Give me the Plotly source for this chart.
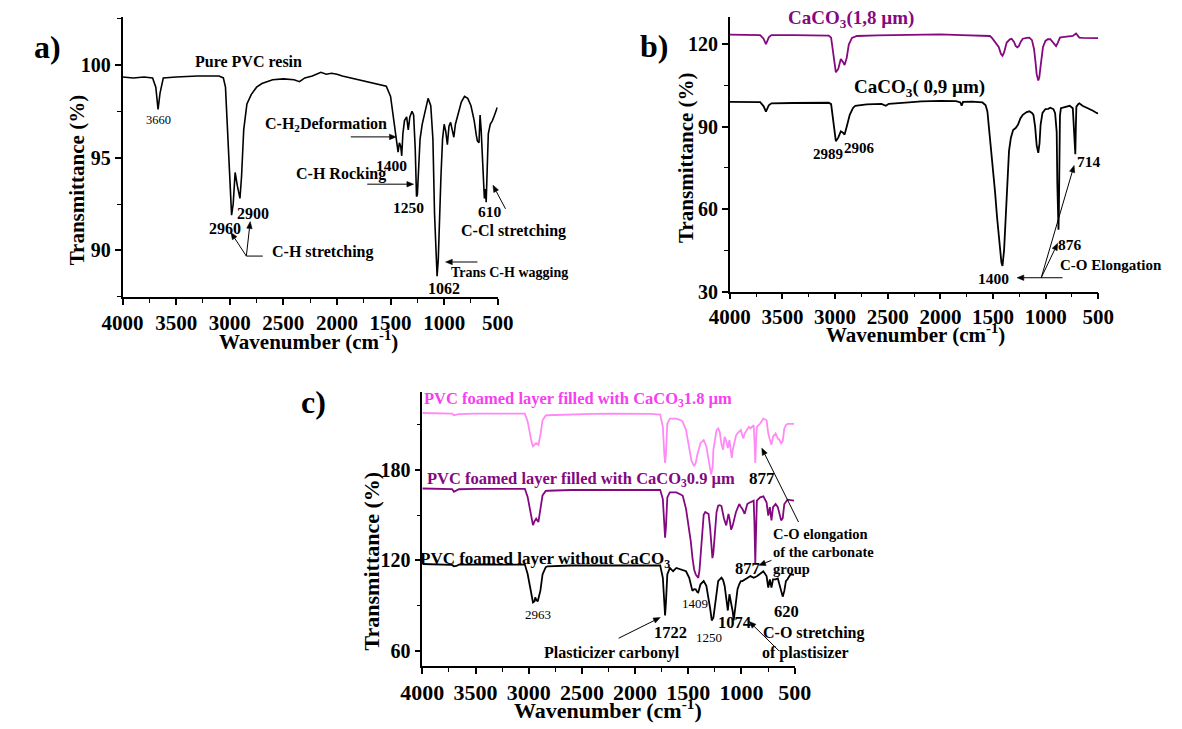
import math
import plotly.graph_objects as go

W, H = 1182, 729
SERIF = "Liberation Serif"

# ---------------- data ----------------
pvc_wn = [4000, 3900, 3800, 3720, 3690, 3669, 3650, 3620, 3500, 3300, 3100, 3060, 3040, 3020, 3000,
          2983, 2968, 2950, 2930, 2905, 2890, 2870, 2840, 2800, 2750, 2700, 2600, 2500, 2400, 2350,
          2300, 2230, 2150, 2100, 2050, 2000, 1950, 1870, 1750, 1630, 1540, 1500, 1470, 1445, 1430,
          1418, 1405, 1396, 1385, 1370, 1350, 1335, 1320, 1300, 1285, 1270, 1258, 1250, 1240, 1225,
          1205, 1180, 1150, 1125, 1105, 1090, 1075, 1066, 1055, 1044, 1030, 1015, 1000, 985, 970,
          955, 940, 925, 910, 895, 870, 840, 810, 780, 750, 720, 700, 690, 675, 665, 655, 640, 625,
          615, 608, 598, 588, 570, 550, 530, 510, 505]
pvc_T = [99.35, 99.3, 99.35, 99.3, 98.8, 97.6, 98.5, 99.3, 99.35, 99.4, 99.4, 99.3, 98.8, 96.5, 93.5,
         91.9, 92.5, 94.2, 93.5, 92.8, 94.0, 96.5, 97.9, 98.4, 98.8, 99.0, 99.2, 99.25, 99.2, 99.1,
         99.3, 99.4, 99.6, 99.5, 99.55, 99.5, 99.4, 99.3, 99.15, 99.0, 98.85, 98.3, 97.0, 95.8, 95.3,
         95.8, 95.6, 95.1, 96.3, 97.0, 97.2, 96.5, 97.2, 97.5, 97.3, 95.5, 92.9, 93.0, 94.5, 96.0,
         96.8, 97.5, 98.2, 97.8, 96.0, 92.0, 89.5, 88.6, 89.5, 91.7, 94.0, 96.0, 96.8, 96.4, 95.7,
         96.7, 96.9, 96.5, 96.1, 96.8, 97.4, 98.0, 98.3, 98.2, 97.8, 97.0, 96.2, 95.9, 95.8, 97.3,
         96.5, 94.5, 92.8, 93.3, 92.6, 94.5, 96.3, 96.8, 97.0, 97.3, 97.6, 97.7]

caco3_18_wn = [4000, 3800, 3712, 3680, 3657, 3630, 3605, 3400, 3200, 3060, 3038, 3015, 2993, 2970,
               2946, 2925, 2910, 2890, 2870, 2840, 2793, 2600, 2400, 2200, 2000, 1800, 1600, 1530,
               1508, 1470, 1446, 1425, 1410, 1395, 1370, 1340, 1324, 1300, 1285, 1269, 1255, 1235,
               1217, 1180, 1155, 1130, 1110, 1095, 1085, 1070, 1060, 1048, 1042, 1025, 1002, 980,
               956, 926, 901, 885, 864, 840, 772, 742, 711, 700, 680, 650, 600, 550, 500]
caco3_18_T = [123.5, 123.4, 123.3, 122.0, 120.0, 122.5, 123.3, 123.3, 123.2, 123.1, 122.4, 116.0,
              109.8, 111.0, 114.6, 113.5, 112.4, 115.0, 119.9, 122.3, 123.0, 123.2, 123.3, 123.4,
              123.6, 123.3, 123.2, 123.0, 122.2, 120.3, 119.0, 116.5, 115.8, 117.0, 120.6, 121.8,
              122.0, 120.8, 119.4, 118.9, 119.3, 121.0, 122.0, 122.3, 122.4, 121.5, 118.2, 113.0,
              109.0, 106.8, 108.0, 112.0, 114.6, 119.0, 121.2, 121.8, 121.8, 120.6, 119.3, 120.5,
              122.4, 122.6, 122.9, 123.0, 123.9, 123.3, 122.4, 122.3, 122.2, 122.1, 122.2]

caco3_09_wn = [4000, 3800, 3712, 3680, 3657, 3630, 3605, 3400, 3200, 3060, 3038, 3015, 2993, 2970,
               2946, 2925, 2910, 2890, 2861, 2830, 2809, 2700, 2560, 2518, 2490, 2300, 2181, 2000,
               1850, 1810, 1798, 1785, 1700, 1600, 1570, 1553, 1530, 1508, 1480, 1462, 1440, 1420,
               1410, 1395, 1379, 1360, 1348, 1330, 1309, 1285, 1263, 1240, 1217, 1180, 1155, 1130,
               1116, 1100, 1085, 1070, 1058, 1048, 1030, 1002, 975, 956, 926, 910, 895, 889, 882,
               878, 874, 870, 864, 855, 820, 772, 742, 732, 724, 718, 713, 708, 690, 680, 650, 600,
               550, 512, 500]
caco3_09_T = [99.0, 99.0, 98.9, 97.5, 95.5, 97.8, 98.5, 98.6, 98.7, 98.7, 98.2, 92.0, 84.7, 86.0,
              88.3, 87.8, 87.1, 90.0, 94.3, 96.8, 97.6, 98.1, 98.3, 97.6, 98.3, 98.8, 99.2, 99.4,
              99.3, 98.8, 97.6, 99.0, 99.1, 98.8, 97.8, 95.5, 87.0, 78.7, 66.0, 57.2, 47.0, 40.5,
              39.3, 45.0, 57.2, 72.0, 81.2, 86.0, 88.8, 89.5, 90.7, 93.0, 94.3, 95.3, 95.6, 95.0,
              94.3, 90.0, 83.1, 80.5, 84.0, 90.7, 95.0, 96.4, 96.5, 96.9, 96.4, 94.9, 88.0, 69.2,
              55.0, 52.5, 60.0, 81.0, 94.0, 96.7, 97.0, 97.6, 96.7, 90.0, 83.1, 80.0, 90.0, 97.3,
              98.2, 98.5, 97.6, 96.8, 95.8, 94.9, 94.8]

foam_18_wn = [4000, 3800, 3720, 3703, 3680, 3657, 3500, 3300, 3100, 3036, 3010, 2991, 2975, 2960,
              2945, 2930, 2909, 2890, 2870, 2840, 2824, 2600, 2400, 2200, 2000, 1850, 1764, 1739,
              1725, 1718, 1710, 1697, 1673, 1612, 1560, 1552, 1521, 1491, 1470, 1445, 1430, 1415,
              1385, 1355, 1330, 1309, 1285, 1270, 1264, 1234, 1219, 1204, 1188, 1173, 1158, 1143,
              1128, 1113, 1097, 1091, 1082, 1067, 1052, 1037, 1021, 1006, 991, 982, 970, 961, 945,
              930, 915, 900, 885, 878, 870, 862, 855, 824, 794, 764, 748, 733, 718, 703, 679, 658,
              642, 627, 612, 597, 582, 567, 540, 506]
foam_18_T = [217.6, 217.4, 217.2, 216.1, 216.4, 216.8, 217.2, 217.4, 217.4, 217.2, 212.0, 204.1,
             199.0, 195.5, 196.5, 197.6, 196.5, 203.0, 212.8, 216.0, 216.1, 216.8, 217.0, 217.2,
             217.3, 217.0, 216.5, 208.4, 190.0, 184.5, 190.0, 210.6, 213.9, 213.9, 212.5, 211.7,
             206.3, 193.2, 186.0, 182.4, 184.5, 190.0, 197.6, 199.7, 195.4, 186.7, 176.9, 182.0,
             193.2, 206.3, 207.4, 205.0, 197.0, 193.2, 201.9, 199.0, 194.3, 199.7, 190.0, 187.8,
             193.0, 197.6, 202.5, 204.1, 205.0, 206.3, 202.5, 200.8, 204.0, 205.2, 207.4, 208.4,
             207.4, 208.4, 209.5, 200.0, 184.5, 200.0, 208.4, 210.6, 213.9, 212.8, 204.1, 200.0,
             196.5, 201.9, 204.1, 200.8, 199.7, 197.6, 199.0, 207.4, 209.5, 210.4, 210.4, 210.4]

foam_09_wn = [4000, 3800, 3720, 3703, 3680, 3657, 3500, 3300, 3036, 3010, 2991, 2975, 2960, 2945,
              2930, 2909, 2890, 2870, 2840, 2824, 2600, 2300, 2000, 1800, 1764, 1739, 1725, 1718,
              1710, 1697, 1673, 1612, 1567, 1552, 1521, 1491, 1476, 1461, 1445, 1430, 1415, 1406,
              1395, 1385, 1370, 1355, 1340, 1330, 1309, 1294, 1285, 1273, 1264, 1249, 1234, 1219,
              1204, 1188, 1173, 1164, 1143, 1128, 1122, 1113, 1097, 1082, 1067, 1052, 1037, 1021,
              1006, 991, 970, 961, 945, 930, 915, 900, 885, 878, 872, 870, 866, 860, 855, 824, 794,
              764, 748, 733, 718, 703, 679, 658, 642, 627, 612, 597, 567, 540, 506]
foam_09_T = [167.6, 167.4, 167.2, 165.4, 166.3, 167.1, 167.3, 167.4, 167.4, 162.0, 154.1, 148.0,
             143.3, 146.0, 147.6, 145.4, 153.0, 163.0, 166.0, 166.1, 166.6, 166.8, 166.9, 166.7,
             166.7, 160.6, 142.0, 135.0, 142.0, 161.7, 165.0, 165.0, 163.5, 162.8, 154.1, 140.0,
             132.4, 122.0, 114.0, 110.7, 109.0, 108.4, 113.0, 121.5, 138.0, 150.2, 152.0, 151.6,
             150.7, 141.0, 130.0, 121.5, 125.0, 141.0, 152.0, 156.2, 156.6, 156.0, 150.0, 147.6,
             143.2, 149.0, 150.8, 148.0, 140.4, 143.2, 148.0, 151.9, 154.5, 157.3, 155.5, 154.1,
             150.8, 153.0, 157.3, 158.0, 158.4, 158.8, 159.5, 145.0, 120.0, 118.2, 130.0, 152.0,
             159.5, 161.7, 162.4, 158.4, 149.7, 155.2, 146.5, 155.2, 157.3, 155.2, 150.0, 146.5,
             148.0, 157.3, 160.2, 159.8, 159.5]

foam_0_wn = [4000, 3800, 3720, 3703, 3680, 3657, 3500, 3300, 3036, 3010, 2991, 2975, 2960, 2945,
             2939, 2930, 2915, 2890, 2870, 2840, 2824, 2600, 2300, 2000, 1800, 1764, 1739, 1725,
             1718, 1710, 1697, 1673, 1643, 1612, 1567, 1521, 1491, 1476, 1461, 1445, 1430, 1415,
             1406, 1385, 1355, 1330, 1309, 1294, 1279, 1264, 1255, 1234, 1219, 1204, 1188, 1173,
             1158, 1143, 1128, 1113, 1097, 1082, 1073, 1060, 1052, 1037, 1021, 1006, 991, 961, 945,
             915, 885, 855, 824, 794, 764, 748, 733, 718, 703, 679, 658, 642, 627, 612, 597, 582,
             567, 540, 506]
foam_0_T = [117.6, 117.4, 117.0, 116.1, 116.3, 117.2, 117.2, 117.2, 117.2, 111.0, 104.2, 98.0,
            92.2, 93.0, 95.5, 94.0, 92.9, 100.0, 110.7, 115.5, 116.1, 116.6, 116.7, 116.8, 116.7,
            116.7, 108.5, 92.0, 83.5, 92.0, 110.7, 115.0, 112.8, 115.0, 113.9, 112.8, 108.5, 104.0,
            99.8, 101.0, 100.9, 99.0, 98.7, 104.2, 106.3, 103.1, 95.5, 88.0, 80.2, 82.0, 86.7,
            100.0, 106.3, 107.4, 108.5, 107.0, 103.1, 95.0, 86.8, 97.6, 92.0, 86.0, 80.2, 88.0,
            95.5, 101.0, 104.2, 106.3, 106.3, 107.4, 108.5, 109.6, 108.5, 109.5, 111.1, 112.8,
            109.6, 102.0, 107.4, 102.0, 107.4, 107.4, 108.0, 104.0, 100.0, 96.0, 99.8, 106.3,
            107.5, 110.7, 110.5, 110.7]

x_ticks = [4000, 3500, 3000, 2500, 2000, 1500, 1000, 500]
ya_ticks = [90, 95, 100]
yb_ticks = [30, 60, 90, 120]
yc_ticks = [60, 120, 180]

PINK_LINE = "#ff8af6"
PINK_TEXT = "#f53ff0"
PURPLE = "#84087f"


def fx(p):
    return p / W


def fy(p):
    return 1 - p / H


fig = go.Figure()
fig.add_trace(go.Scatter(x=pvc_wn, y=pvc_T, mode="lines", line=dict(color="black", width=1.6),
                         xaxis="x", yaxis="y"))
fig.add_trace(go.Scatter(x=caco3_18_wn, y=caco3_18_T, mode="lines", line=dict(color=PURPLE, width=1.8),
                         xaxis="x2", yaxis="y2"))
fig.add_trace(go.Scatter(x=caco3_09_wn, y=caco3_09_T, mode="lines", line=dict(color="black", width=1.8),
                         xaxis="x2", yaxis="y2"))
fig.add_trace(go.Scatter(x=foam_18_wn, y=foam_18_T, mode="lines", line=dict(color=PINK_LINE, width=1.8),
                         xaxis="x3", yaxis="y3"))
fig.add_trace(go.Scatter(x=foam_09_wn, y=foam_09_T, mode="lines", line=dict(color=PURPLE, width=1.8),
                         xaxis="x3", yaxis="y3"))
fig.add_trace(go.Scatter(x=foam_0_wn, y=foam_0_T, mode="lines", line=dict(color="black", width=1.8),
                         xaxis="x3", yaxis="y3"))


def xax(x0, x1, y_anchor, fsize):
    return dict(domain=[fx(x0), fx(x1)], range=[4000, 500], tickmode="array", tickvals=x_ticks,
                ticks="outside", ticklen=6, tickwidth=1.5, tickcolor="black",
                minor=dict(ticks="outside", ticklen=4, tickwidth=1.2, tickcolor="black", dtick=250, tick0=500),
                showline=True, linecolor="black", linewidth=1.5, showgrid=False, zeroline=False,
                tickfont=dict(family=SERIF, size=fsize, color="black", weight="bold"), anchor=y_anchor)


def yax(y0, y1, rng, tvals, mdt, x_anchor):
    return dict(domain=[fy(y1), fy(y0)], range=rng, tickmode="array", tickvals=tvals,
                ticks="outside", ticklen=6, tickwidth=1.5, tickcolor="black",
                minor=dict(ticks="outside", ticklen=4, tickwidth=1.2, tickcolor="black", dtick=mdt, tick0=tvals[0]),
                showline=True, linecolor="black", linewidth=1.5, showgrid=False, zeroline=False,
                tickfont=dict(family=SERIF, size=20, color="black", weight="bold"), anchor=x_anchor)


fig.update_layout(
    width=W, height=H, margin=dict(l=0, r=0, t=0, b=0), showlegend=False,
    paper_bgcolor="white", plot_bgcolor="white",
    xaxis=xax(104, 492, "y", 21),
    yaxis=yax(17, 302, [87.46, 102.6], ya_ticks, 2.5, "x"),
    xaxis2=xax(732, 1113, "y2", 21),
    yaxis2=yax(17, 296, [30, 130], yb_ticks, 15, "x2"),
    xaxis3=xax(414, 799, "y3", 22),
    yaxis3=yax(398, 676, [50.2, 231.5], yc_ticks, 30, "x3"),
)

ann = []
shapes = []


def txt(s, x, y, size, bold=True, color="black", angle=0, xanchor="center"):
    ann.append(dict(text=("<b>%s</b>" % s) if bold else s, x=fx(x), y=fy(y), xref="paper", yref="paper",
                    showarrow=False, xanchor=xanchor, yanchor="middle", textangle=angle,
                    font=dict(family=SERIF, size=size, color=color)))


def line(x0, y0, x1, y1):
    shapes.append(dict(type="line", xref="paper", yref="paper", x0=fx(x0), y0=fy(y0), x1=fx(x1), y1=fy(y1),
                       line=dict(color="black", width=1)))


def arrow(x0, y0, x1, y1, hl=7.0, hw=2.8):
    # tail (x0,y0) -> head (x1,y1), pixel coordinates; head drawn as a filled triangle
    dx, dy = x1 - x0, y1 - y0
    d = math.hypot(dx, dy)
    ux, uy = dx / d, dy / d
    nx, ny = -uy, ux
    bx, by = x1 - hl * ux, y1 - hl * uy
    line(x0, y0, bx, by)
    pts = [(x1, y1), (bx + hw * nx, by + hw * ny), (bx - hw * nx, by - hw * ny)]
    path = "M %f %f L %f %f L %f %f Z" % tuple(v for p in pts for v in (fx(p[0]), fy(p[1])))
    shapes.append(dict(type="path", xref="paper", yref="paper", path=path,
                       fillcolor="black", line=dict(color="black", width=0.5)))


# ---- panel a ----
txt("a)", 26, 48, 32)
txt("Pure PVC resin", 234, 62, 16)
txt("3660", 141, 122, 12.5, bold=False)
txt("2960", 210, 232, 16)
txt("2900", 239, 217, 16)
txt("C-H stretching", 311, 256, 16)
txt("C-H<sub>2</sub>Deformation", 314, 126, 16)
txt("1400", 382, 168, 15.5)
txt("C-H Rocking", 330, 177, 16)
txt("1250", 400, 211, 15.5)
txt("610", 484, 215, 15.5)
txt("C-Cl stretching", 508, 235, 16)
txt("Trans C-H wagging", 504, 277, 14)
txt("1062", 436, 293, 16)
txt("Transmittance (%)", 57, 183, 21, angle=-90)
txt("Wavenumber (cm<sup>-1</sup>)", 296, 346, 21)
arrow(232, 260, 216, 236)
arrow(232, 260, 236, 225)
line(232, 260, 249, 260)
arrow(340, 139, 387, 139)
arrow(357, 187, 405, 187)
arrow(471, 266, 438, 266)
arrow(500, 212, 487, 188)

# ---- panel b ----
txt("b)", 654, 47, 32)
txt("CaCO<sub>3</sub>(1,8 µm)", 857, 19, 19, color=PURPLE)
txt("CaCO<sub>3</sub>( 0,9 µm)", 928, 89, 19)
txt("2989", 834, 156, 15)
txt("2906", 866, 150, 15)
txt("714", 1103, 164, 15.5)
txt("876", 1084, 248, 15.5)
txt("C-O Elongation", 1126, 269, 15)
txt("1400", 1005, 283, 15.5)
txt("Transmittance (%)", 686, 160, 21, angle=-90)
txt("Wavenumber (cm<sup>-1</sup>)", 924, 339, 21)
arrow(1054, 282, 1029, 282)
line(1054, 282, 1076, 282)
arrow(1054, 282, 1071, 247)
arrow(1054, 282, 1088, 168)

# ---- panel c ----
txt("c)", 301, 408, 32)
txt("PVC foamed layer filled with CaCO<sub>3</sub>1.8 µm", 575, 405, 16.5, color=PINK_TEXT)
txt("PVC foamed layer filled with CaCO<sub>3</sub>0.9 µm", 578, 486, 16.5, color=PURPLE)
txt("877", 765, 486, 17)
txt("PVC foamed layer without CaCO<sub>3</sub>", 541, 569, 17)
txt("C-O elongation", 775, 542, 14.5, xanchor="left")
txt("of the carbonate", 775, 560, 14.5, xanchor="left")
txt("group", 775, 578, 14.5, xanchor="left")
txt("877", 750, 577, 16.5)
txt("1409", 696, 613, 13, bold=False)
txt("2963", 534, 624, 13, bold=False)
txt("1722", 671, 642, 16.5)
txt("1250", 710, 647, 13, bold=False)
txt("1074", 737, 632, 16.5)
txt("620", 791, 621, 16.5)
txt("C-O stretching", 818, 643, 16)
txt("of plastisizer", 810, 663, 16)
txt("Plasticizer carbonyl", 610, 663, 16)
txt("Transmittance (%)", 361, 570, 22, angle=-90)
txt("Wavenumber (cm<sup>-1</sup>)", 606, 720, 22)
arrow(775, 569, 762, 574)
arrow(803, 530, 765, 455)
arrow(617, 648, 660, 627)
arrow(783, 661, 752, 631)

fig.update_layout(annotations=ann, shapes=shapes)
fig.write_html("out.html")
